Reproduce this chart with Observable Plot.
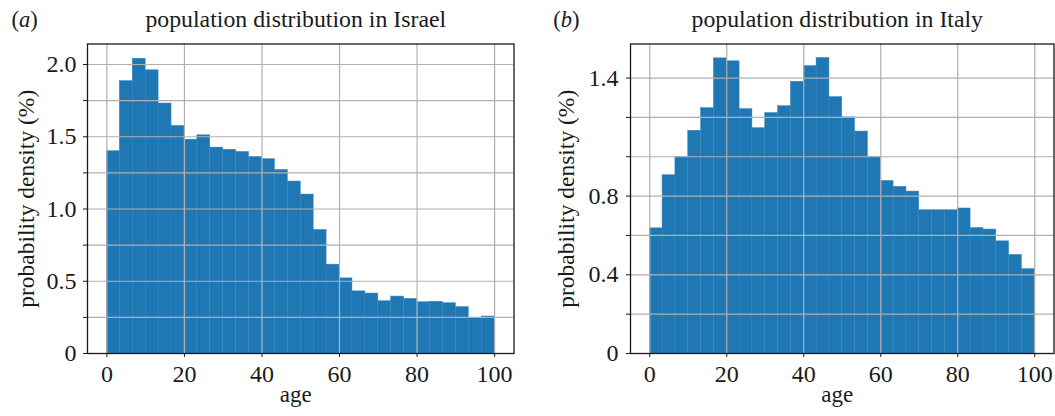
<!DOCTYPE html>
<html><head><meta charset="utf-8">
<script src="https://cdn.jsdelivr.net/npm/d3@7"></script>
<script src="https://cdn.jsdelivr.net/npm/@observablehq/plot@0.6"></script>
<style>
html,body{margin:0;padding:0;background:#fff;}
#wrap{position:relative;width:1055px;height:416px;overflow:hidden;background:#fff;}
#pa{position:absolute;left:0;top:0;}
#pb{position:absolute;left:527px;top:0;}
</style></head><body><div id="wrap"><div id="pa"></div><div id="pb"></div></div>
<script>
const ageEdges = [0, 3.333, 6.667, 10, 13.333, 16.667, 20, 23.333, 26.667, 30, 33.333, 36.667, 40, 43.333, 46.667, 50, 53.333, 56.667, 60, 63.333, 66.667, 70, 73.333, 76.667, 80, 83.333, 86.667, 90, 93.333, 96.667, 100];
const israelDensity = [1.40, 1.885, 2.04, 1.96, 1.73, 1.575, 1.48, 1.51, 1.425, 1.41, 1.395, 1.36, 1.345, 1.27, 1.19, 1.10, 0.855, 0.615, 0.52, 0.43, 0.415, 0.362, 0.394, 0.378, 0.355, 0.358, 0.348, 0.321, 0.247, 0.256];
const italyDensity = [0.636, 0.906, 0.998, 1.132, 1.247, 1.50, 1.485, 1.242, 1.145, 1.222, 1.257, 1.381, 1.461, 1.502, 1.303, 1.200, 1.128, 0.998, 0.877, 0.847, 0.823, 0.728, 0.728, 0.728, 0.737, 0.638, 0.630, 0.570, 0.501, 0.429];
const xTicks = [0, 20, 40, 60, 80, 100];
const israelGrid = [0, 0.25, 0.5, 0.75, 1.0, 1.25, 1.5, 1.75, 2.0];
const israelTickValues = [0, 0.5, 1.0, 1.5, 2.0];
const israelTickLabels = ["0", "0.5", "1.0", "1.5", "2.0"];
const italyGrid = [0, 0.2, 0.4, 0.6, 0.8, 1.0, 1.2, 1.4];
const italyTickValues = [0, 0.4, 0.8, 1.4];
const italyTickLabels = ["0", "0.4", "0.8", "1.4"];
const titles = ["population distribution in Israel", "population distribution in Italy"];
const panelLetters = ["a", "b"];
const xLabel = "age";
const yLabel = "probability density (%)";

const FONT = "'Liberation Serif', 'DejaVu Serif', serif";
const INK = "#1a1a1a";

function panel(o) {
  const bins = o.density.map((v, i) => ({x1: ageEdges[i], x2: ageEdges[i + 1], y: v}));
  const fmt = d => {
    const k = o.tickValues.findIndex(t => Math.abs(t - d) < 1e-9);
    return k < 0 ? "" : o.tickLabels[k];
  };
  const top = 43.5;
  return Plot.plot({
    width: o.width, height: 416,
    marginLeft: o.ml, marginRight: o.mr, marginTop: top, marginBottom: 63,
    x: {domain: [-5, 105]},
    y: {domain: [0, o.yMax]},
    style: {fontFamily: FONT, fontSize: "24px", color: INK, background: "white", overflow: "visible"},
    marks: [
      Plot.rectY(bins, {x1: "x1", x2: "x2", y: "y", fill: "#1f77b4", stroke: "#3585bd", strokeWidth: 0.5}),
      Plot.gridX(xTicks, {stroke: "#b0b0b0", strokeOpacity: 1, strokeWidth: 1.2}),
      Plot.gridY(o.grid, {stroke: "#b0b0b0", strokeOpacity: 1, strokeWidth: 1.2}),
      Plot.axisX(xTicks, {tickSize: 4, tickPadding: 7.7, tickFormat: d => String(d), fontSize: 24, label: null}),
      Plot.axisY(o.grid, {tickSize: 4, tickPadding: o.tickPad, tickFormat: fmt, fontSize: 24, label: null}),
      Plot.frame({stroke: INK, strokeWidth: 1.3}),
      Plot.text([o.title], {text: d => d, frameAnchor: "top", dx: -5, dy: -16.8, lineAnchor: "bottom", fontSize: 23.8, fill: INK}),
      Plot.text([yLabel], {text: d => d, frameAnchor: "left", rotate: -90, dx: o.ylabelDx, lineAnchor: "bottom", textAnchor: "middle", fontSize: 23.5, fill: INK}),
      Plot.text([xLabel], {text: d => d, frameAnchor: "bottom", dx: -5, dy: 48.7, lineAnchor: "bottom", fontSize: 23, fill: INK}),
      Plot.text(["("], {text: d => d, frameAnchor: "top-left", dx: o.letterDx, dy: -16.8, textAnchor: "start", lineAnchor: "bottom", fontSize: 22.5, fill: INK}),
      Plot.text([o.letter], {text: d => d, frameAnchor: "top-left", dx: o.letterDx + 7.5, dy: -16.8, textAnchor: "start", lineAnchor: "bottom", fontSize: 22.5, fontStyle: "italic", fill: INK}),
      Plot.text([")"], {text: d => d, frameAnchor: "top-left", dx: o.letterDx + 18.8, dy: -16.8, textAnchor: "start", lineAnchor: "bottom", fontSize: 22.5, fill: INK})
    ]
  });
}

document.getElementById("pa").appendChild(panel({
  density: israelDensity, grid: israelGrid, tickValues: israelTickValues, tickLabels: israelTickLabels,
  yMax: 2.142, title: titles[0], letter: panelLetters[0],
  width: 527, ml: 87, mr: 13.5, ylabelDx: -53.7, letterDx: -76, tickPad: 7
}));
document.getElementById("pb").appendChild(panel({
  density: italyDensity, grid: italyGrid, tickValues: italyTickValues, tickLabels: italyTickLabels,
  yMax: 1.573, title: titles[1], letter: panelLetters[1],
  width: 528, ml: 103, mr: 1.5, ylabelDx: -56.7, letterDx: -77.3, tickPad: 8
}));
</script>
</body></html>
